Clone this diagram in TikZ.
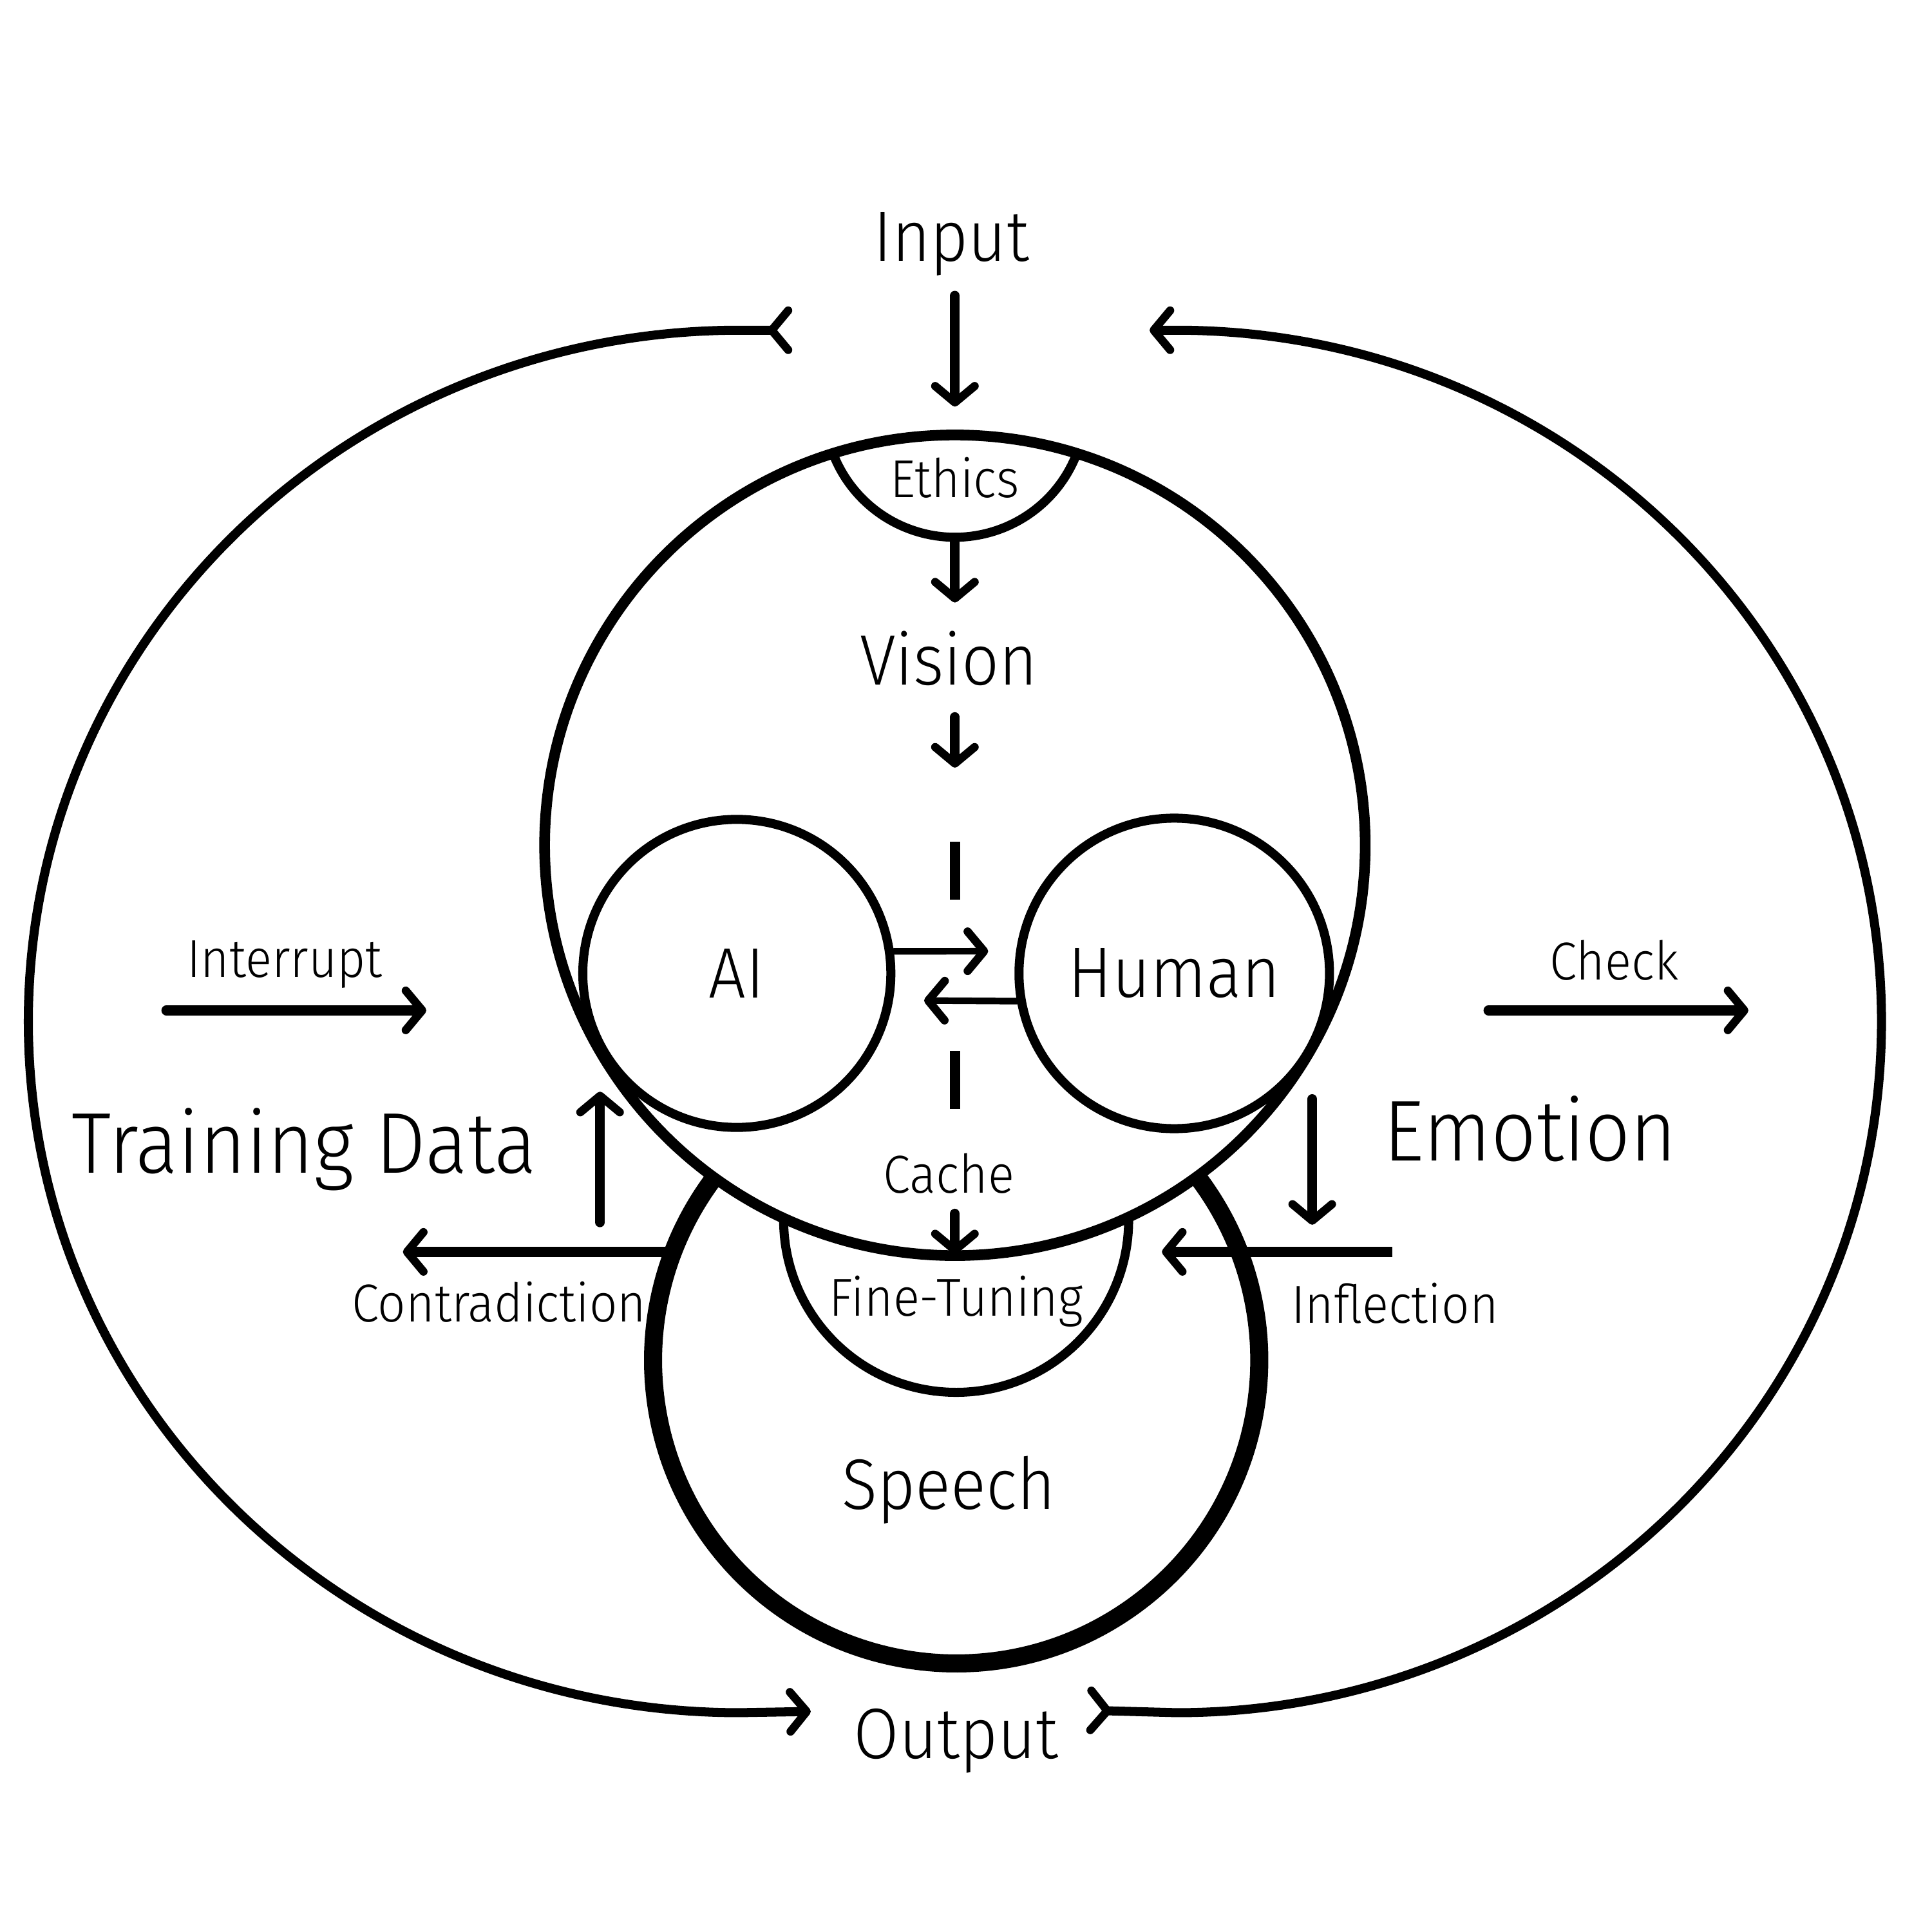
\documentclass[tikz,border=0pt]{standalone}
\usepackage{fontspec}
\setmainfont[FakeStretch=0.92, UprightFont=* Light]{Fira Sans}
\usetikzlibrary{arrows.meta}
\tikzset{every picture/.style={line width=0.75pt}}
\tikzset{
petal/.tip={Straight Barb[length=10pt, width=24pt, line width=5pt, round]},
ring/.style={line width=6.5pt},
eyeline/.style={line width=5.5pt},
eye/.style={circle, draw, line width=5.5pt, inner sep=0pt},
speechline/.style={line width=11pt},
loopline/.style={line width=5.5pt, line cap=round},
feed/.style={line width=6pt, line cap=round, -petal},
smalltxt/.style={font=\fontsize{32.5}{39}\selectfont, inner sep=0pt, anchor=base},
midtxt/.style={font=\fontsize{43.5}{52}\selectfont, inner sep=0pt, anchor=base},
bigtxt/.style={font=\fontsize{52.5}{63}\selectfont, inner sep=0pt, anchor=base}}

\begin{document}
\begin{tikzpicture}[x=0.75pt,y=0.75pt,yscale=-1]
\useasboundingbox (0,0) rectangle (1568,1568);

%Shape: Circle [id:head]
\node[circle, draw, ring, inner sep=0pt, minimum size=499.5pt] (head) at (775,686) {};
%Shape: Arc [id:ethics]
\draw[eyeline] (775,330) ++(20.5:106) arc[start angle=20.5, end angle=159.5, radius=106];
%Shape: Arc [id:finetune]
\draw[eyeline] (916,990) arc[start angle=0, end angle=180, radius=140];
%Shape: Arc [id:speech]
\draw[speechline] (776,1104) ++(-37:246) arc[start angle=-37, end angle=217, radius=246];
%Shape: Circle [id:ai]
\node[eye, minimum size=187.5pt, midtxt, anchor=center] (ai) at (598,790) {AI};
%Shape: Circle [id:human]
\node[eye, minimum size=189pt, midtxt, anchor=center] (human) at (953,790) {Human};

% Coordinates
\coordinate (inTop) at (775,240);
\coordinate (inEnd) at (775,330);
\coordinate (ethBot) at (775,437);
\coordinate (visTop) at (775,489);
\coordinate (visBot) at (775,582);
\coordinate (visEnd) at (775,623);
\coordinate (axisA) at (775,683);
\coordinate (axisB) at (775,900);
\coordinate (cacheBot) at (775,985);
\coordinate (ftTop) at (775,1018);
\coordinate (aiTip) at (802,772);
\coordinate (huTip) at (750,812);
\coordinate (intA) at (135,820);
\coordinate (intB) at (346,820);
\coordinate (chkA) at (1208,820);
\coordinate (chkB) at (1419,820);
\coordinate (trA) at (487,992);
\coordinate (trB) at (487,886);
\coordinate (emA) at (1065,892);
\coordinate (emB) at (1065,994);
\coordinate (coA) at (546,1016);
\coordinate (coB) at (327,1016);
\coordinate (infA) at (1130,1016);
\coordinate (infB) at (943,1016);
\coordinate (loopLT) at (643,268);
\coordinate (loopLB) at (658,1389);
\coordinate (loopRB) at (882,1388);
\coordinate (loopRT) at (933,268);

%Curve Lines [id:loopleft]
\draw[loopline, {petal[reversed]}-{petal}] (loopLT) -- (600,268) arc[start angle=-90, end angle=-270, x radius=577, y radius=561] -- (loopLB);
%Curve Lines [id:loopright]
\draw[loopline, {petal[reversed]}-{petal}] (loopRB) -- (955,1390) arc[start angle=90, end angle=-90, x radius=572, y radius=561] -- (loopRT);

%Straight Lines
\draw[feed] (inTop) -- (inEnd);
\draw[feed] (ethBot) -- (visTop);
\draw[feed] (visBot) -- (visEnd);
\draw[ring, dash pattern={on 35.25pt off 92.25pt}] (axisA) -- (axisB);
\draw[feed] (cacheBot) -- (ftTop);
\draw[feed, line width=4pt] (ai.8) -- (aiTip);
\draw[feed, line width=4pt] (human.190) -- (huTip);
\draw[feed] (intA) -- (intB);
\draw[feed] (chkA) -- (chkB);
\draw[feed] (trA) -- (trB);
\draw[feed] (emA) -- (emB);
\draw[feed] (coA) -- (coB);
\draw[feed, line cap=butt] (infA) -- (infB);

% Text Node
\node[midtxt] (input) at (772,212) {Input};
% Text Node
\node[smalltxt] (ethics) at (775,404) {Ethics};
% Text Node
\node[midtxt] (vision) at (770,556) {Vision};
% Text Node
\node[smalltxt] (interrupt) at (231,793) {Interrupt};
% Text Node
\node[smalltxt] (check) at (1310,795) {Check};
% Text Node
\node[bigtxt] (training) at (247,952) {Training Data};
% Text Node
\node[bigtxt] (emotion) at (1242,942) {Emotion};
% Text Node
\node[smalltxt] (cache) at (770,968) {Cache};
% Text Node
\node[smalltxt] (contra) at (405,1073) {Contradiction};
% Text Node
\node[smalltxt] (finetune) at (776,1068) {Fine-Tuning};
% Text Node
\node[smalltxt] (inflect) at (1132,1074) {Inflection};
% Text Node
\node[midtxt] (speech) at (770,1225) {Speech};
% Text Node
\node[midtxt] (output) at (776,1427) {Output};

\end{tikzpicture}
\end{document}
